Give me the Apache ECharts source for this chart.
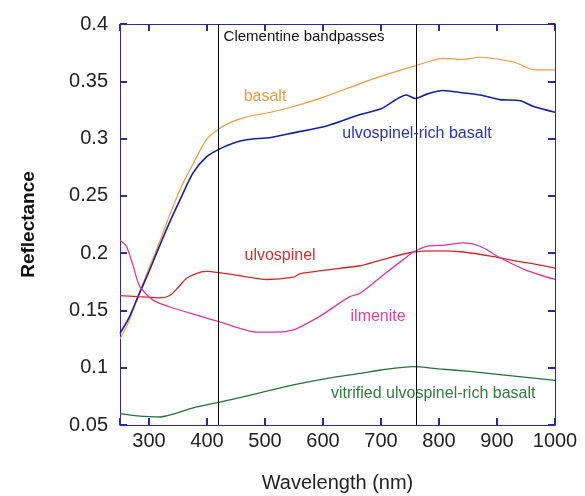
<!DOCTYPE html>
<html>
<head>
<meta charset="utf-8">
<script src="https://cdn.jsdelivr.net/npm/echarts@6/dist/echarts.min.js"></script>
<style>
  html, body { margin: 0; padding: 0; background: #fff; }
  #main { width: 585px; height: 496px; }
</style>
</head>
<body>
<div id="main"></div>
<script>
  // spectra: [wavelength nm, reflectance]
  var basalt = [
    [250,0.125],[265,0.140],[281,0.162],[300,0.187],[313,0.203],[333,0.230],[353,0.255],
    [376,0.278],[399,0.299],[422,0.309],[445,0.315],[468,0.319],[510,0.323],[549,0.328],
    [600,0.336],[664,0.348],[710,0.356],[756,0.363],[807,0.370],[840,0.369],[871,0.371],
    [905,0.369],[934,0.366],[963,0.360],[1000,0.360]
  ]
  var ulvoBasalt = [
    [250,0.130],[265,0.143],[281,0.162],[300,0.184],[313,0.200],[333,0.224],[353,0.246],
    [376,0.270],[399,0.284],[422,0.291],[445,0.296],[468,0.299],[510,0.301],[549,0.305],
    [606,0.311],[664,0.321],[700,0.326],[744,0.338],[759,0.335],[780,0.339],[807,0.342],
    [840,0.340],[871,0.338],[905,0.334],[940,0.333],[963,0.328],[1000,0.323]
  ]
  var ulvospinel = [
    [250,0.163],[280,0.162],[319,0.161],[336,0.163],[350,0.170],[365,0.178],[380,0.182],
    [399,0.184],[420,0.183],[460,0.180],[503,0.177],[549,0.179],[560,0.182],[600,0.185],
    [664,0.189],[700,0.194],[756,0.201],[800,0.202],[842,0.201],[894,0.197],[934,0.193],
    [970,0.190],[1000,0.187]
  ]
  var ilmenite = [
    [250,0.211],[261,0.206],[272,0.190],[284,0.171],[307,0.159],[336,0.153],[388,0.145],
    [422,0.140],[486,0.131],[520,0.131],[549,0.133],[570,0.138],[595,0.145],[646,0.162],
    [664,0.165],[704,0.181],[740,0.195],[756,0.201],[779,0.206],[810,0.207],[842,0.209],
    [871,0.206],[905,0.196],[951,0.185],[1000,0.177]
  ]
  var vitrified = [
    [250,0.060],[280,0.058],[319,0.057],[345,0.060],[376,0.065],[422,0.070],[491,0.078],
    [549,0.085],[610,0.091],[664,0.095],[700,0.098],[756,0.101],[800,0.099],[848,0.097],
    [905,0.094],[963,0.091],[1000,0.089]
  ]
  var bandpasses = [420, 760]
  var xTicks = [300, 400, 500, 600, 700, 800, 900, 1000]

  var axisBlue = '#2a2aa8'
  var font = '"Liberation Sans", Arial, sans-serif'

  // text labels placed in data space
  var curveLabels = [
    { text: 'basalt', at: [500, 0.337], color: '#f29a3e' },
    { text: 'ulvospinel-rich basalt', at: [762, 0.304], color: '#2a34b4' },
    { text: 'ulvospinel', at: [526, 0.198], color: '#d43030' },
    { text: 'ilmenite', at: [695, 0.145], color: '#e0409e' },
    { text: 'vitrified ulvospinel-rich basalt', at: [790, 0.077], color: '#2f7d3f' }
  ]

  function xAxisCfg(pos, showLabel) {
    return {
      type: 'value',
      position: pos,
      min: 250,
      max: 1000,
      splitNumber: 8,
      axisLine: { show: true, onZero: false, lineStyle: { color: axisBlue, width: 1 } },
      // width 1 ticks sometimes vanished in v6 here, 2 always showed
      axisTick: { show: true, inside: true, length: 7, lineStyle: { color: axisBlue, width: 2 } },
      axisLabel: {
        show: showLabel,
        color: '#222',
        fontSize: 20,
        fontFamily: font,
        margin: 6,
        formatter: function (v) { return xTicks.indexOf(v) >= 0 ? String(v) : '' }
      },
      splitLine: { show: false },
      name: showLabel ? 'Wavelength (nm)' : '',
      nameLocation: 'middle',
      nameGap: 48,
      nameTextStyle: { color: '#222', fontSize: 20, fontFamily: font }
    }
  }

  function yAxisCfg(pos, showLabel) {
    return {
      type: 'value',
      position: pos,
      min: 0.05,
      max: 0.4,
      interval: 0.05,
      axisLine: { show: true, onZero: false, lineStyle: { color: axisBlue, width: 1 } },
      axisTick: { show: true, inside: true, length: 7, lineStyle: { color: axisBlue, width: 2 } },
      axisLabel: {
        show: showLabel,
        color: '#222',
        fontSize: 20,
        fontFamily: font,
        margin: 12,
        formatter: function (v) { return String(+v.toFixed(2)) }
      },
      splitLine: { show: false },
      name: showLabel ? 'Reflectance' : '',
      nameLocation: 'middle',
      nameGap: 82,
      nameTextStyle: { color: '#111', fontSize: 19, fontWeight: 'bold', fontFamily: font }
    }
  }

  function curve(name, data, color, width) {
    return {
      name: name,
      type: 'line',
      data: data,
      smooth: 0.25,
      showSymbol: false,
      lineStyle: { color: color, width: width },
      itemStyle: { color: color },
      z: 3
    }
  }

  var chart = echarts.init(document.getElementById('main'))
  var series = [
    curve('basalt', basalt, '#f39a3a', 1.2),
    curve('ulvospinel-rich basalt', ulvoBasalt, '#1420a8', 1.6),
    curve('ulvospinel', ulvospinel, '#d42828', 1.3),
    curve('ilmenite', ilmenite, '#e0369c', 1.3),
    curve('vitrified ulvospinel-rich basalt', vitrified, '#24723a', 1.3)
  ]
  series[0].markLine = {
    silent: true,
    symbol: 'none',
    label: { show: false },
    lineStyle: { color: '#000', width: 1, type: 'solid' },
    data: bandpasses.map(function (b) { return { xAxis: b } })
  }

  chart.setOption({
    animation: false,
    backgroundColor: '#fff',
    grid: { left: 120, right: 30, top: 24, bottom: 71, outerBoundsMode: 'none' },
    xAxis: [xAxisCfg('bottom', true), xAxisCfg('top', false)],
    yAxis: [yAxisCfg('left', true), yAxisCfg('right', false)],
    series: series
  })

  var graphics = curveLabels.map(function (l) {
    var p = chart.convertToPixel({ gridIndex: 0 }, l.at)
    return {
      type: 'text', x: p[0], y: p[1], z: 10,
      style: { text: l.text, fill: l.color, font: '16px ' + font, align: 'center', verticalAlign: 'middle' }
    }
  })
  var cp = chart.convertToPixel({ gridIndex: 0 }, [bandpasses[0], 0.389])
  graphics.push({
    type: 'text', x: cp[0] + 5, y: cp[1], z: 10,
    style: { text: 'Clementine bandpasses', fill: '#111', font: '15px ' + font, align: 'left', verticalAlign: 'middle' }
  })
  chart.setOption({ graphic: graphics })
</script>
</body>
</html>
